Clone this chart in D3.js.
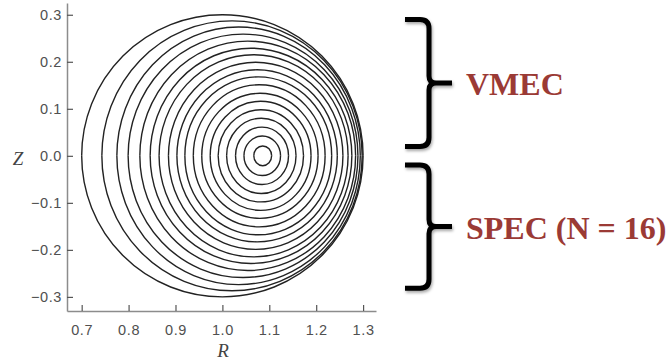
<!DOCTYPE html>
<html>
<head>
<meta charset="utf-8">
<script src="https://cdn.jsdelivr.net/npm/d3@7"></script>
<style>
  html, body { margin: 0; padding: 0; background: #fff; }
  svg { display: block; }
</style>
</head>
<body>
<svg id="chart" width="669" height="360"></svg>
<script>
// Flux surfaces, innermost first: inboard / outboard major radius at Z = 0 and half-height.
const surfaceInnerR = [1.067, 1.046, 1.028, 1.009, 0.991, 0.974, 0.956, 0.938, 0.920,
                       0.903, 0.885, 0.865, 0.846, 0.824, 0.799, 0.775, 0.743, 0.700];
const surfaceOuterR = [1.105, 1.124, 1.141, 1.157, 1.173, 1.189, 1.204, 1.219, 1.233,
                       1.245, 1.257, 1.268, 1.276, 1.284, 1.289, 1.294, 1.298, 1.300];
const surfaceHalfZ  = [0.021, 0.042, 0.061, 0.080, 0.098, 0.116, 0.133, 0.151, 0.168,
                       0.183, 0.199, 0.215, 0.229, 0.244, 0.259, 0.274, 0.287, 0.300];

const rTicks = [0.7, 0.8, 0.9, 1.0, 1.1, 1.2, 1.3];
const zTicks = [-0.3, -0.2, -0.1, 0.0, 0.1, 0.2, 0.3];

// Upper half: VMEC; lower half: SPEC
const codeLabels = ["VMEC", "SPEC (N = 16)"];
const braceRanges = [[0.02, 0.29], [-0.2815, -0.0195]];

const svg = d3.select("#chart");

const x = d3.scaleLinear().domain([0.6687, 1.3275]).range([67, 376]);
const y = d3.scaleLinear().domain([-0.330, 0.325]).range([311, 3]);

const surfaces = surfaceInnerR.map((r0, i) => ({
  r0, r1: surfaceOuterR[i], h: surfaceHalfZ[i]
}));

// Each surface as two half-ellipses meeting on the midplane
function halfPath(d, upper) {
  const x0 = x(d.r0), x1 = x(d.r1);
  const rx = (x1 - x0) / 2;
  const ry = Math.abs(y(d.h) - y(0));
  const sweep = upper ? 1 : 0;
  return `M${x0},${y(0)} A${rx},${ry} 0 0 ${sweep} ${x1},${y(0)}`;
}

const g = svg.append("g");
g.selectAll("path.upper").data(surfaces).join("path")
  .attr("class", "upper")
  .attr("d", d => halfPath(d, true))
  .attr("fill", "none").attr("stroke", "#222").attr("stroke-width", 1.4);
g.selectAll("path.lower").data(surfaces).join("path")
  .attr("class", "lower")
  .attr("d", d => halfPath(d, false))
  .attr("fill", "none").attr("stroke", "#222").attr("stroke-width", 1.4);

// Axes
const axisColor = "#8c8c8c";
const labelFont = "'Liberation Sans', Arial, Helvetica, sans-serif";
const fmt = v => (v < 0 ? "\u2212" : "") + Math.abs(v).toFixed(1);

const xAxis = svg.append("g").attr("transform", `translate(0,${y.range()[0]})`)
  .call(d3.axisBottom(x).tickValues(rTicks).tickSizeInner(-6).tickSizeOuter(0).tickPadding(14).tickFormat(fmt));
const yAxis = svg.append("g").attr("transform", `translate(${x.range()[0]},0)`)
  .call(d3.axisLeft(y).tickValues(zTicks).tickSizeInner(-6).tickSizeOuter(0).tickPadding(5).tickFormat(fmt));

[xAxis, yAxis].forEach(a => {
  a.select(".domain").attr("stroke", axisColor).attr("stroke-width", 1.5);
  a.selectAll(".tick line").attr("stroke", "#555").attr("stroke-width", 1.2);
  a.selectAll(".tick text").attr("fill", "#505050")
    .style("font-family", labelFont).style("font-size", "14.5px")
    .style("letter-spacing", "0.6px");
});

svg.append("text").attr("x", 223).attr("y", 357).attr("text-anchor", "middle")
  .style("font-family", "'Liberation Serif', 'Times New Roman', serif")
  .style("font-style", "italic").style("font-size", "19px").attr("fill", "#444").text("R");
svg.append("text").attr("x", 18).attr("y", 165).attr("text-anchor", "middle")
  .style("font-family", "'Liberation Serif', 'Times New Roman', serif")
  .style("font-style", "italic").style("font-size", "19px").attr("fill", "#444").text("Z");

// Braces with soft shadow, and the code names
const defs = svg.append("defs");
defs.append("filter").attr("id", "shadow").attr("x", "-50%").attr("y", "-20%")
  .attr("width", "200%").attr("height", "140%")
  .append("feDropShadow").attr("dx", 1).attr("dy", 2).attr("stdDeviation", 1.6)
  .attr("flood-color", "#000").attr("flood-opacity", 0.35);

const bx0 = 405, bx1 = 429, btip = 452;
function bracePath([zLo, zHi]) {
  const t = y(zHi), b = y(zLo), m = (t + b) / 2, r = 9;
  return `M${bx0},${t} H${bx1 - r} Q${bx1},${t} ${bx1},${t + r} V${m - 7} ` +
         `Q${bx1},${m} ${bx1 + 7},${m} H${btip} M${bx1 + 7},${m} Q${bx1},${m} ${bx1},${m + 7} ` +
         `V${b - r} Q${bx1},${b} ${bx1 - r},${b} H${bx0}`;
}

svg.selectAll("path.brace").data(braceRanges).join("path")
  .attr("class", "brace")
  .attr("d", bracePath)
  .attr("fill", "none").attr("stroke", "#000").attr("stroke-width", 5)
  .attr("stroke-linecap", "butt").attr("stroke-linejoin", "round")
  .attr("filter", "url(#shadow)");

svg.selectAll("text.code").data(codeLabels).join("text")
  .attr("class", "code")
  .attr("x", 466)
  .attr("y", (d, i) => (y(braceRanges[i][0]) + y(braceRanges[i][1])) / 2 + 12)
  .attr("fill", "#9b3a35")
  .style("font-family", "'Liberation Serif', 'Times New Roman', serif")
  .style("font-weight", "bold").style("font-size", "32px")
  .text(d => d);
</script>
</body>
</html>
